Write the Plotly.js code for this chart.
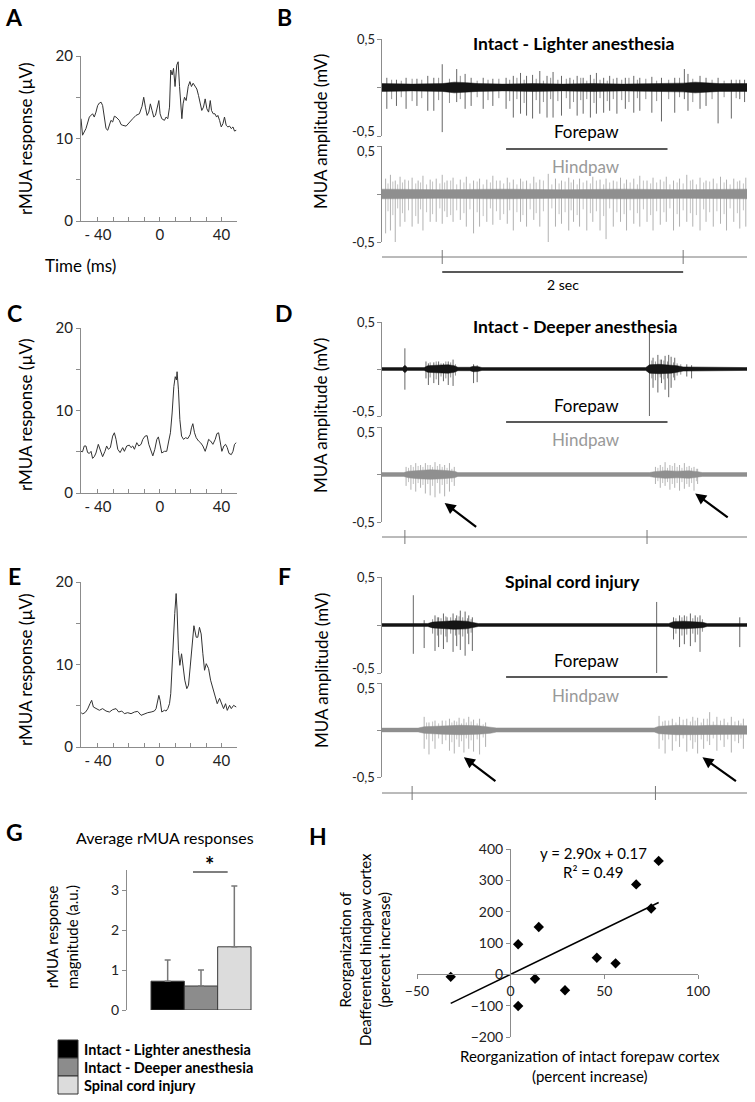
<!DOCTYPE html>
<html><head><meta charset="utf-8">
<script src="https://cdn.plot.ly/plotly-3.0.1.min.js"></script>
<style>html,body{margin:0;padding:0;background:#fff}#chart{width:755px;height:1102px}</style>
</head><body><div id="chart"></div>
<script>
// ---------- DATA ----------
// Panel A: rMUA response, intact lighter anesthesia (time ms, µV)
const aTime = [-51,-50,-47.8,-45.6,-43.5,-42.4,-41.3,-40.2,-39.1,-38,-37,-35.9,-34.8,-33.7,-32.6,-31.6,-30.5,-29.4,-28.3,-27.2,-26.2,-25.1,-24,-21.8,-19.7,-17.5,-15.4,-13.2,-11.5,-10.4,-9.3,-8.2,-7.1,-6.1,-5,-3.9,-2.8,-1.7,-0.6,0.2,1.3,3,4.1,5.2,6.3,7.1,8,8.9,9.9,11,11.9,12.8,13.4,14.3,15.1,16,17.1,18.4,19.5,20.5,21.6,22.9,24,25.1,26.2,27.2,28.3,29.4,30.5,31.6,32.7,33.5,34.6,35.7,36.8,37.6,38.7,39.8,40.9,41.9,43,44.1,45.2,46.3,47.4,48.4,49.5];
const aResp = [12.4,10.4,11.2,12.6,13.0,12.6,13.2,14.0,14.3,14.4,14.0,12.6,11.2,11.0,11.8,12.2,12.0,12.7,12.6,12.4,12.2,11.7,11.6,11.5,12.0,12.4,12.8,13.0,13.9,15.0,13.8,12.8,13.2,14.2,13.4,12.6,12.8,13.6,14.6,13.0,12.4,12.2,12.6,12.4,13.8,18.3,17.7,18.5,16.3,18.9,19.3,16.3,14.6,12.4,14.2,15.0,14.6,16.3,16.9,16.3,16.7,16.3,16.0,15.2,14.2,13.4,13.8,14.8,13.6,13.2,14.6,13.4,13.0,13.0,12.6,12.8,12.2,11.4,11.8,12.6,11.6,11.4,11.5,11.2,11.4,10.9,11.0];
// Panel C: intact deeper anesthesia
const cTime = [-51,-50,-48.9,-47.8,-46.7,-45.6,-44.5,-43.5,-42.4,-41.3,-39.8,-38.5,-37,-35.5,-34.4,-33.3,-32,-30.5,-29.4,-28.3,-27.2,-25.7,-24,-22.9,-21.4,-19.7,-18.6,-17.5,-16.4,-14.9,-13.6,-12.1,-11,-9.5,-8.2,-7.1,-5.6,-4.5,-3.2,-1.9,-0.9,0.2,1.3,3,4.5,5.8,6.9,8,9.1,10,10.8,11.2,12.1,13,14.1,15.4,16.6,18.2,19.7,20.5,21.4,22.5,23.6,25.1,26.4,27.9,29.4,30.5,31.6,32.9,34.4,35.9,37,38.1,39.1,40.2,41.5,42.6,43.7,44.8,46.3,47.4,48.4,49.5];
const cResp = [5.05,5.0,5.7,5.7,4.9,4.8,5.05,4.2,4.4,4.85,5.9,5.05,4.4,5.05,5.7,5.3,5.5,6.9,7.3,6.5,5.3,4.9,5.5,5.05,5.7,5.8,5.5,5.7,5.3,6.1,5.7,5.9,6.5,6.9,6.95,5.9,5.05,4.5,5.3,6.5,6.8,5.7,4.85,5.05,5.05,6.3,7.3,9.7,12.9,14.1,13.7,14.7,12.5,8.9,6.9,6.5,6.7,6.6,7.1,7.9,8.4,7.3,6.7,6.3,6.1,5.7,5.05,5.7,6.5,6.3,5.9,6.5,7.2,7.3,6.1,5.05,5.7,5.9,5.5,4.8,4.65,5.05,5.9,6.1];
// Panel E: spinal cord injury
const eTime = [-51,-50,-48.2,-46.7,-45.2,-44.1,-43,-41.3,-39.1,-37,-34.8,-32.6,-30.5,-28.3,-26.6,-24.6,-22.9,-20.8,-18.6,-16.4,-14.3,-12.1,-9.9,-7.8,-5.6,-3.5,-2.4,-1.5,-0.6,0.2,1.3,3,4.1,5.2,6.3,7.1,8,8.9,9.7,10.6,11.2,12.1,13,14.1,15.1,16.2,17.5,18.6,19.7,20.8,22.1,23.6,24.6,25.7,26.8,27.9,29,30.1,31.6,32.9,34.4,35.9,37.2,38.7,39.8,41.3,42.6,43.7,45.2,46.3,47.8,49.5];
const eResp = [4.2,4.0,4.2,4.6,5.25,5.66,4.85,4.65,4.45,4.65,4.36,4.24,4.53,4.65,4.24,4.36,4.04,4.16,4.04,4.24,4.32,3.84,4.04,4.16,4.24,4.36,4.65,5.45,6.26,5.66,4.24,4.45,4.36,4.65,5.25,6.46,10.1,14.9,16.2,18.6,16.6,11.7,9.9,11.3,9.7,8.1,7.07,7.5,9.7,12.5,14.7,13.3,13.3,14.5,13.7,11.3,9.3,10.1,9.5,8.1,7.07,5.9,5.25,5.9,5.45,4.65,5.25,4.44,5.05,4.65,5.05,4.85];

// MUA traces (time s, amplitude mV): noise envelope + large spikes + small spikes
// B top: forepaw, intact lighter anesthesia
const bFpEnvT = [0,0.25,0.5,0.6,0.7,0.8,1.0,1.25,1.5,1.75,2.0,2.25,2.5,2.6,2.7,2.8,3.03];
const bFpEnvA = [0.04,0.035,0.04,0.055,0.05,0.04,0.035,0.04,0.035,0.04,0.035,0.04,0.045,0.055,0.05,0.04,0.04];
const bFpSpkT = [0.04,0.12,0.20,0.29,0.38,0.43,0.50,0.62,0.69,0.74,0.84,0.92,1.03,1.09,1.15,1.20,1.25,1.31,1.37,1.42,1.49,1.56,1.62,1.67,1.73,1.78,1.84,1.89,1.95,2.02,2.09,2.14,2.24,2.32,2.43,2.51,2.54,2.64,2.69,2.79,2.90,2.97,3.01];
const bFpSpkLo = [-0.22,-0.19,-0.22,-0.19,-0.24,-0.24,-0.46,-0.15,-0.22,-0.19,-0.22,-0.19,-0.22,-0.31,-0.27,-0.29,-0.32,-0.27,-0.31,-0.31,-0.29,-0.22,-0.29,-0.27,-0.31,-0.27,-0.26,-0.24,-0.27,-0.22,-0.26,-0.24,-0.26,-0.35,-0.26,-0.12,-0.24,-0.22,-0.19,-0.37,-0.32,-0.12,-0.15];
const bFpSpkHi = [0.10,0.08,0.10,0.09,0.12,0.10,0.24,0.19,0.14,0.10,0.10,0.09,0.10,0.12,0.15,0.12,0.13,0.17,0.12,0.16,0.12,0.10,0.12,0.10,0.13,0.15,0.10,0.12,0.10,0.10,0.12,0.10,0.11,0.10,0.10,0.19,0.14,0.12,0.10,0.10,0.08,0.08,0.08];
const bFpSmlT = [0.08,0.16,0.25,0.33,0.47,0.56,0.65,0.79,0.88,0.97,1.06,1.12,1.18,1.28,1.34,1.40,1.46,1.53,1.59,1.65,1.70,1.76,1.81,1.87,1.92,1.99,2.05,2.12,2.19,2.28,2.38,2.47,2.58,2.74,2.84,2.94];
const bFpSmlLo = [-0.12,-0.10,-0.14,-0.11,-0.13,-0.16,-0.12,-0.10,-0.13,-0.11,-0.14,-0.12,-0.16,-0.13,-0.15,-0.12,-0.14,-0.11,-0.15,-0.13,-0.12,-0.16,-0.11,-0.14,-0.12,-0.13,-0.15,-0.11,-0.12,-0.14,-0.12,-0.10,-0.15,-0.12,-0.10,-0.11];
const bFpSmlHi = [0.08,0.07,0.09,0.08,0.10,0.09,0.12,0.07,0.08,0.09,0.08,0.10,0.08,0.09,0.07,0.10,0.08,0.09,0.08,0.10,0.07,0.09,0.08,0.07,0.09,0.08,0.10,0.08,0.09,0.07,0.08,0.10,0.09,0.08,0.07,0.08];
// B bottom: hindpaw, intact lighter anesthesia
const bHpEnvT = [0,0.5,1.0,1.5,2.0,2.5,3.03];
const bHpEnvA = [0.05,0.045,0.05,0.045,0.05,0.045,0.05];
const bHpSpkT = [0.03,0.07,0.11,0.15,0.19,0.25,0.30,0.34,0.40,0.45,0.50,0.54,0.59,0.65,0.70,0.76,0.81,0.87,0.92,0.98,1.04,1.09,1.15,1.20,1.26,1.31,1.38,1.44,1.49,1.55,1.59,1.64,1.70,1.75,1.81,1.86,1.92,1.98,2.03,2.09,2.14,2.20,2.25,2.31,2.36,2.42,2.47,2.53,2.58,2.64,2.69,2.75,2.81,2.86,2.92,2.97,3.02];
const bHpSpkLo = [-0.41,-0.38,-0.50,-0.34,-0.29,-0.34,-0.31,-0.38,-0.29,-0.29,-0.31,-0.24,-0.29,-0.27,-0.34,-0.41,-0.34,-0.29,-0.32,-0.27,-0.31,-0.38,-0.29,-0.34,-0.27,-0.34,-0.51,-0.34,-0.31,-0.38,-0.29,-0.34,-0.38,-0.29,-0.38,-0.47,-0.34,-0.29,-0.38,-0.31,-0.34,-0.29,-0.38,-0.32,-0.29,-0.38,-0.34,-0.29,-0.34,-0.38,-0.29,-0.34,-0.31,-0.38,-0.29,-0.36,-0.34];
const bHpSpkHi = [0.16,0.20,0.14,0.18,0.15,0.17,0.14,0.19,0.15,0.16,0.20,0.14,0.17,0.15,0.18,0.14,0.16,0.15,0.19,0.14,0.17,0.15,0.16,0.14,0.18,0.15,0.21,0.16,0.14,0.17,0.15,0.16,0.14,0.18,0.15,0.16,0.14,0.17,0.15,0.16,0.19,0.14,0.17,0.15,0.18,0.14,0.16,0.20,0.15,0.17,0.14,0.16,0.18,0.15,0.16,0.14,0.17];
const bHpSmlT = [0.05,0.09,0.13,0.17,0.22,0.28,0.32,0.37,0.42,0.48,0.52,0.57,0.62,0.68,0.73,0.79,0.84,0.90,0.95,1.01,1.06,1.12,1.17,1.23,1.28,1.34,1.41,1.47,1.52,1.57,1.62,1.67,1.73,1.78,1.84,1.89,1.95,2.01,2.06,2.12,2.17,2.23,2.28,2.34,2.39,2.45,2.50,2.56,2.61,2.67,2.72,2.78,2.84,2.89,2.95,3.00];
const bHpSmlLo = [-0.18,-0.22,-0.15,-0.20,-0.17,-0.23,-0.16,-0.19,-0.21,-0.15,-0.18,-0.22,-0.17,-0.20,-0.16,-0.19,-0.23,-0.15,-0.18,-0.21,-0.17,-0.19,-0.22,-0.16,-0.20,-0.18,-0.15,-0.21,-0.19,-0.17,-0.22,-0.16,-0.20,-0.18,-0.23,-0.15,-0.19,-0.21,-0.17,-0.20,-0.16,-0.22,-0.18,-0.19,-0.15,-0.21,-0.17,-0.20,-0.22,-0.16,-0.19,-0.18,-0.21,-0.15,-0.20,-0.17];
const bHpSmlHi = [0.11,0.13,0.10,0.12,0.14,0.11,0.12,0.10,0.13,0.11,0.12,0.14,0.10,0.12,0.11,0.13,0.10,0.12,0.14,0.11,0.12,0.10,0.13,0.11,0.12,0.14,0.10,0.11,0.13,0.12,0.10,0.12,0.11,0.14,0.10,0.12,0.13,0.11,0.12,0.10,0.14,0.11,0.12,0.13,0.10,0.12,0.11,0.14,0.10,0.12,0.13,0.11,0.12,0.10,0.13,0.11];
// D top: forepaw, intact deeper anesthesia
const dFpEnvT = [0,0.17,0.19,0.21,0.35,0.38,0.45,0.55,0.6,0.63,0.73,0.76,0.8,0.83,2.19,2.22,2.3,2.4,2.45,2.5,2.6,2.65,3.03];
const dFpEnvA = [0.015,0.015,0.04,0.015,0.015,0.035,0.04,0.045,0.035,0.018,0.018,0.03,0.025,0.015,0.015,0.045,0.05,0.045,0.035,0.022,0.022,0.015,0.015];
const dFpSpkT = [0.19,0.365,0.385,0.43,0.47,0.51,0.55,0.59,0.76,0.79,2.22,2.25,2.29,2.32,2.35,2.38,2.40,2.43,2.53,2.57];
const dFpSpkLo = [-0.22,-0.10,-0.17,-0.15,-0.17,-0.13,-0.17,-0.18,-0.15,-0.14,-0.51,-0.20,-0.25,-0.15,-0.22,-0.30,-0.20,-0.12,-0.08,-0.10];
const dFpSpkHi = [0.22,0.08,0.06,0.07,0.08,0.06,0.08,0.10,0.05,0.04,0.42,0.12,0.15,0.10,0.14,0.15,0.13,0.12,0.05,0.04];
const dFpSmlT = [0.40,0.45,0.49,0.53,0.57,0.61,2.24,2.27,2.31,2.34,2.37,2.42,2.45,2.48];
const dFpSmlLo = [-0.09,-0.11,-0.08,-0.10,-0.09,-0.07,-0.10,-0.12,-0.09,-0.11,-0.10,-0.09,-0.07,-0.06];
const dFpSmlHi = [0.07,0.08,0.06,0.08,0.07,0.05,0.09,0.08,0.10,0.09,0.08,0.07,0.06,0.05];
// D bottom: hindpaw, intact deeper anesthesia
const dHpEnvT = [0,0.18,0.22,0.3,0.4,0.5,0.6,0.63,2.22,2.26,2.35,2.45,2.55,2.62,2.66,3.03];
const dHpEnvA = [0.02,0.02,0.035,0.045,0.05,0.045,0.035,0.02,0.02,0.03,0.04,0.035,0.04,0.03,0.02,0.02];
const dHpSpkT = [0.20,0.24,0.28,0.32,0.36,0.40,0.44,0.48,0.52,0.56,0.60,2.27,2.31,2.35,2.39,2.43,2.47,2.51,2.55,2.59,2.62];
const dHpSpkLo = [-0.12,-0.16,-0.18,-0.14,-0.20,-0.22,-0.24,-0.20,-0.23,-0.18,-0.12,-0.10,-0.14,-0.12,-0.16,-0.14,-0.17,-0.15,-0.13,-0.17,-0.10];
const dHpSpkHi = [0.08,0.10,0.12,0.10,0.12,0.10,0.13,0.11,0.10,0.12,0.08,0.08,0.10,0.13,0.10,0.12,0.10,0.12,0.09,0.08,0.06];
const dHpSmlT = [0.22,0.26,0.30,0.34,0.38,0.42,0.46,0.50,0.54,0.58,2.29,2.33,2.37,2.41,2.45,2.49,2.53,2.57,2.61];
const dHpSmlLo = [-0.08,-0.10,-0.09,-0.11,-0.10,-0.12,-0.09,-0.11,-0.10,-0.08,-0.07,-0.09,-0.08,-0.10,-0.09,-0.08,-0.10,-0.09,-0.07];
const dHpSmlHi = [0.07,0.08,0.09,0.08,0.10,0.08,0.09,0.08,0.07,0.06,0.07,0.08,0.07,0.09,0.08,0.07,0.08,0.07,0.06];
// F top: forepaw, spinal cord injury
const fFpEnvT = [0,0.38,0.42,0.5,0.6,0.7,0.76,0.8,2.38,2.42,2.5,2.6,2.66,2.7,3.03];
const fFpEnvA = [0.015,0.015,0.03,0.04,0.045,0.04,0.028,0.015,0.015,0.035,0.04,0.035,0.028,0.015,0.015];
const fFpSpkT = [0.26,0.35,0.44,0.47,0.51,0.54,0.59,0.62,0.65,0.69,0.72,0.75,2.28,2.42,2.47,2.51,2.56,2.60,2.64,2.97];
const fFpSpkLo = [-0.30,-0.24,-0.27,-0.23,-0.25,-0.18,-0.28,-0.22,-0.26,-0.32,-0.20,-0.27,-0.50,-0.15,-0.23,-0.20,-0.22,-0.18,-0.28,-0.23];
const fFpSpkHi = [0.31,0.05,0.10,0.08,0.12,0.08,0.12,0.10,0.15,0.14,0.10,0.08,0.24,0.08,0.10,0.10,0.12,0.10,0.10,0.08];
const fFpSmlT = [0.42,0.46,0.49,0.53,0.57,0.61,0.64,0.67,0.71,0.74,2.44,2.49,2.53,2.58,2.62,2.66];
const fFpSmlLo = [-0.09,-0.11,-0.10,-0.12,-0.09,-0.11,-0.10,-0.12,-0.09,-0.08,-0.09,-0.11,-0.10,-0.09,-0.10,-0.07];
const fFpSmlHi = [0.06,0.08,0.07,0.09,0.08,0.07,0.09,0.08,0.07,0.06,0.07,0.08,0.09,0.07,0.08,0.06];
// F bottom: hindpaw, spinal cord injury
const fHpEnvT = [0,0.3,0.35,0.5,0.65,0.8,0.9,0.95,2.26,2.3,2.45,2.6,2.75,2.9,3.03];
const fHpEnvA = [0.02,0.02,0.035,0.045,0.05,0.045,0.035,0.022,0.022,0.04,0.05,0.045,0.05,0.045,0.045];
const fHpSpkT = [0.35,0.39,0.44,0.50,0.56,0.60,0.64,0.68,0.72,0.76,0.81,0.86,2.30,2.35,2.41,2.47,2.53,2.58,2.62,2.67,2.72,2.78,2.84,2.90,2.96,3.00];
const fHpSpkLo = [-0.20,-0.26,-0.20,-0.15,-0.22,-0.25,-0.18,-0.24,-0.20,-0.23,-0.26,-0.18,-0.20,-0.25,-0.22,-0.18,-0.23,-0.20,-0.25,-0.20,-0.16,-0.22,-0.18,-0.24,-0.14,-0.20];
const fHpSpkHi = [0.14,0.08,0.10,0.10,0.12,0.10,0.13,0.12,0.14,0.11,0.12,0.08,0.15,0.10,0.12,0.14,0.12,0.14,0.13,0.12,0.19,0.14,0.12,0.14,0.10,0.12];
const fHpSmlT = [0.37,0.42,0.47,0.53,0.58,0.62,0.66,0.70,0.74,0.79,0.84,2.33,2.38,2.44,2.50,2.56,2.60,2.65,2.70,2.75,2.81,2.87,2.93,2.98];
const fHpSmlLo = [-0.10,-0.12,-0.09,-0.11,-0.13,-0.10,-0.12,-0.09,-0.11,-0.10,-0.08,-0.11,-0.10,-0.12,-0.09,-0.11,-0.13,-0.10,-0.12,-0.09,-0.11,-0.10,-0.12,-0.09];
const fHpSmlHi = [0.08,0.09,0.07,0.10,0.08,0.09,0.07,0.08,0.09,0.07,0.06,0.09,0.10,0.08,0.11,0.09,0.10,0.08,0.12,0.09,0.10,0.08,0.09,0.07];
// stimulus ticks (s), forepaw stimulation bar (s), amplitude tick labels
const bStimT = [0.5,2.5];
const dStimT = [0.19,2.2];
const fStimT = [0.25,2.27];
const forepawBar = [1.03,2.37];
const scaleBar = [0.5,2.5];
const muaTickVals = [-0.5,0,0.5];
const muaTickText = ['-0,5','0,5'];

// Panel G: average rMUA responses
const gGroups = ['Intact - Lighter anesthesia','Intact - Deeper anesthesia','Spinal cord injury'];
const gMean = [0.72,0.60,1.58];
const gErr = [0.53,0.40,1.52];
const gColors = ['#000000','#8c8c8c','#dcdcdc'];

// Panel H: reorganization scatter (percent increase)
const hX = [79,67,75,15,4,46,56,-32,13,29,4];
const hY = [362,287,210,151,96,53,35,-8,-14,-51,-101];
const hSlope = 2.90, hIntercept = 0.17;

// ---------- HELPERS ----------
const FONT = 'Lato, "Open Sans", sans-serif';
const W = 755, H = 1102;
const PX = v => v / W, PY = v => 1 - v / H;
const AX = '#8c8c8c', TXT = '#222';

function spikeXY(ts, lo, hi) {
  const x = [], y = [];
  ts.forEach((t, i) => { x.push(t, t, null); y.push(lo[i], hi[i], null); });
  return {x, y};
}
function bandXY(ts, env) {
  return {x: ts.concat(ts.slice().reverse()),
          y: env.concat(env.slice().reverse().map(v => -v))};
}

const traces = [];
[[aTime, aResp, 'x', 'y'], [cTime, cResp, 'x2', 'y2'], [eTime, eResp, 'x3', 'y3']].forEach(p => {
  traces.push({type: 'scatter', mode: 'lines', x: p[0], y: p[1], xaxis: p[2], yaxis: p[3],
               line: {color: '#333', width: 1}, hoverinfo: 'skip'});
});
const BLK = ['#151515', '#555', '#777'], GRY = ['#8f8f8f', '#a8a8a8', '#b5b5b5'];
const mua = [
  [bFpEnvT, bFpEnvA, bFpSpkT, bFpSpkLo, bFpSpkHi, bFpSmlT, bFpSmlLo, bFpSmlHi, 'x4', 'y4', BLK],
  [bHpEnvT, bHpEnvA, bHpSpkT, bHpSpkLo, bHpSpkHi, bHpSmlT, bHpSmlLo, bHpSmlHi, 'x5', 'y5', GRY],
  [dFpEnvT, dFpEnvA, dFpSpkT, dFpSpkLo, dFpSpkHi, dFpSmlT, dFpSmlLo, dFpSmlHi, 'x6', 'y6', BLK],
  [dHpEnvT, dHpEnvA, dHpSpkT, dHpSpkLo, dHpSpkHi, dHpSmlT, dHpSmlLo, dHpSmlHi, 'x7', 'y7', GRY],
  [fFpEnvT, fFpEnvA, fFpSpkT, fFpSpkLo, fFpSpkHi, fFpSmlT, fFpSmlLo, fFpSmlHi, 'x8', 'y8', BLK],
  [fHpEnvT, fHpEnvA, fHpSpkT, fHpSpkLo, fHpSpkHi, fHpSmlT, fHpSmlLo, fHpSmlHi, 'x9', 'y9', GRY]
];
mua.forEach(m => {
  const s = spikeXY(m[2], m[3], m[4]);
  const s2 = spikeXY(m[5], m[6], m[7]);
  traces.push({type: 'scatter', mode: 'lines', x: s.x, y: s.y, xaxis: m[8], yaxis: m[9],
               line: {color: m[10][1], width: 0.9}, connectgaps: false, hoverinfo: 'skip'});
  traces.push({type: 'scatter', mode: 'lines', x: s2.x, y: s2.y, xaxis: m[8], yaxis: m[9],
               line: {color: m[10][2], width: 0.8}, connectgaps: false, hoverinfo: 'skip'});
  const b = bandXY(m[0], m[1]);
  traces.push({type: 'scatter', mode: 'lines', x: b.x, y: b.y, xaxis: m[8], yaxis: m[9],
               fill: 'toself', fillcolor: m[10][0], line: {color: m[10][0], width: 0.5}, hoverinfo: 'skip'});
});
traces.push({type: 'bar', x: gGroups.map((g, i) => i), y: gMean, xaxis: 'x10', yaxis: 'y10',
  width: 1, marker: {color: gColors, line: {color: '#3a3a3a', width: 1}},
  error_y: {type: 'data', symmetric: false, array: gErr, arrayminus: gErr.map(() => 0),
            color: '#777', thickness: 1.5, width: 3},
  hoverinfo: 'skip', name: 'Average rMUA responses'});
traces.push({type: 'scatter', mode: 'markers', x: hX, y: hY, xaxis: 'x11', yaxis: 'y11',
  marker: {symbol: 'diamond', size: 8, color: '#000'}, hoverinfo: 'skip', cliponaxis: false});
const tX = [Math.min(...hX), Math.max(...hX)];
traces.push({type: 'scatter', mode: 'lines', x: tX, y: tX.map(v => hSlope * v + hIntercept),
  xaxis: 'x11', yaxis: 'y11', line: {color: '#000', width: 1.5}, hoverinfo: 'skip'});

// ---------- AXES ----------
function ax(o) {
  return Object.assign({showline: true, linecolor: AX, linewidth: 1, ticks: 'outside', ticklen: 4,
    tickcolor: AX, showgrid: false, zeroline: false, fixedrange: true,
    tickfont: {family: FONT, size: 15, color: TXT}}, o);
}
const layout = {
  width: W, height: H, margin: {l: 0, r: 0, t: 0, b: 0}, showlegend: false,
  paper_bgcolor: '#fff', plot_bgcolor: 'rgba(0,0,0,0)', bargap: 0,
  font: {family: FONT, color: '#000'}
};
const msTicks = [-40,-30,-20,-10,0,10,20,30,40,50];
const msText = ['- 40','','','','0','','','','40',''];
const uvTicks = [0,5,10,15,20], uvText = ['0','','10','','20'];
[['', 56, 221], ['2', 328, 493], ['3', 582, 747]].forEach(p => {
  layout['xaxis' + p[0]] = ax({domain: [PX(81), PX(237)], range: [-51, 50], anchor: 'y' + p[0],
    ticks: 'inside', tickvals: msTicks, ticktext: msText});
  layout['yaxis' + p[0]] = ax({domain: [PY(p[2]), PY(p[1])], range: [0, 20], anchor: 'x' + p[0],
    tickvals: uvTicks, ticktext: uvText});
});
const muaPlots = [[4, 39, 136, 'top'], [5, 146, 242, 'bot'], [6, 322, 416, 'top'], [7, 427, 522, 'bot'], [8, 577, 673, 'top'], [9, 683, 777, 'bot']];
muaPlots.forEach(p => {
  layout['xaxis' + p[0]] = {domain: [PX(382), PX(747)], range: [0, 3.03], anchor: 'y' + p[0],
    visible: false, fixedrange: true};
  layout['yaxis' + p[0]] = ax({domain: [PY(p[2]), PY(p[1])], range: [-0.5, 0.5], anchor: 'x' + p[0],
    tickvals: muaTickVals, showticklabels: false});
});
layout.xaxis10 = {domain: [PX(127), PX(255)], range: [-1.22, 2.62], anchor: 'y10', visible: false, fixedrange: true};
layout.yaxis10 = ax({domain: [PY(1010), PY(870)], range: [0, 3.5], anchor: 'x10', tickvals: [0,1,2,3],
  tickfont: {family: FONT, size: 14, color: TXT}});
layout.xaxis11 = ax({domain: [PX(417), PX(698)], range: [-50, 100], anchor: 'free', position: PY(974),
  tickvals: [-50, 0, 50, 100], tickfont: {family: FONT, size: 14, color: TXT}});
layout.yaxis11 = ax({domain: [PY(1037), PY(849)], range: [-200, 400], anchor: 'free', position: PX(510),
  tickvals: [-200,-100,0,100,200,300,400], tickfont: {family: FONT, size: 14, color: TXT}});

// ---------- ANNOTATIONS ----------
const ann = [];
function T(text, x, y, o) {
  ann.push(Object.assign({text: text, x: PX(x), y: PY(y), xref: 'paper', yref: 'paper',
    showarrow: false, xanchor: 'center', yanchor: 'middle',
    font: {family: FONT, size: 16, color: '#000'}}, o || {}));
}
const tickFont = {family: FONT, size: 13, color: TXT};
muaPlots.forEach(p => {
  if (p[3] === 'top') {
    T(muaTickText[1], 376, p[1], {xanchor: 'right', font: tickFont, borderpad: 0});
    T(muaTickText[0], 376, p[2] + 4, {xanchor: 'right', yanchor: 'bottom', font: tickFont, borderpad: 0});
  } else {
    T(muaTickText[1], 376, p[1] - 4, {xanchor: 'right', yanchor: 'top', font: tickFont, borderpad: 0});
    T(muaTickText[0], 376, p[2], {xanchor: 'right', font: tickFont, borderpad: 0});
  }
});
[['A', 14, 17], ['B', 284, 17], ['C', 14, 313], ['D', 284, 313], ['E', 14, 576], ['F', 284, 576],
 ['G', 14, 832], ['H', 318, 836]].forEach(l => T('<b>' + l[0] + '</b>', l[1], l[2], {font: {family: FONT, size: 23, color: '#000'}}));
[139, 415, 670].forEach(y => T('rMUA response (µV)', 25, y, {textangle: -90, font: {family: FONT, size: 17, color: '#000'}}));
[132, 416, 671].forEach(y => T('MUA amplitude (mV)', 321, y, {textangle: -90, font: {family: FONT, size: 17, color: '#000'}}));
T('Time (ms)', 80, 265, {font: {family: FONT, size: 17, color: '#000'}});
T('<b>Intact - Lighter anesthesia</b>', 573, 43, {font: {family: FONT, size: 17.5, color: '#000'}});
T('<b>Intact - Deeper anesthesia</b>', 575, 326, {font: {family: FONT, size: 17.5, color: '#000'}});
T('<b>Spinal cord injury</b>', 572, 581, {font: {family: FONT, size: 17.5, color: '#000'}});
[[132, 167], [405, 440], [660, 695]].forEach(p => {
  T('Forepaw', 586, p[0], {font: {family: FONT, size: 17, color: '#000'}});
  T('Hindpaw', 586, p[1], {font: {family: FONT, size: 17, color: '#999'}});
});
T('2 sec', 563, 285, {font: {family: FONT, size: 14, color: '#000'}});
[['x7', 'y7', 0.52, -0.30, 33, 25], ['x7', 'y7', 2.60, -0.20, 34, 25],
 ['x9', 'y9', 0.68, -0.29, 33, 25], ['x9', 'y9', 2.66, -0.29, 35, 25]].forEach(a => {
  ann.push({text: '', xref: a[0], yref: a[1], x: a[2], y: a[3], ax: a[4], ay: a[5], showarrow: true,
    arrowhead: 2, arrowsize: 1, arrowwidth: 2.2, arrowcolor: '#000'});
});
T('Average rMUA responses', 165, 837, {font: {family: FONT, size: 16, color: '#000'}});
T('rMUA response<br>magnitude (a.u.)', 62, 937, {textangle: -90, font: {family: FONT, size: 15, color: '#000'}});
T('<b>*</b>', 210, 864, {font: {family: FONT, size: 22, color: '#000'}});
gGroups.forEach((g, i) => T('<b>' + g + '</b>', 82, 1049 + 18 * i, {xanchor: 'left', font: {family: FONT, size: 14.5, color: '#000'}}));
T('y = 2.90x + 0.17', 593, 853, {font: {family: FONT, size: 15, color: '#000'}});
T('R² = 0.49', 593, 872, {font: {family: FONT, size: 15, color: '#000'}});
T('Reorganization of intact forepaw cortex<br>(percent increase)', 590, 1066, {font: {family: FONT, size: 15, color: '#000'}});
T('Reorganization of<br>Deafferented hindpaw cortex<br>(percent increase)', 365, 950, {textangle: -90, font: {family: FONT, size: 15, color: '#000'}});
layout.annotations = ann;

// ---------- SHAPES ----------
const shapes = [];
function L(xref, x0, x1, y0, y1, color, width) {
  shapes.push({type: 'line', xref: xref, yref: 'paper', x0: x0, x1: x1, y0: PY(y0), y1: PY(y1),
    line: {color: color, width: width}});
}
[['x5', 257, bStimT], ['x7', 537, dStimT], ['x9', 793, fStimT]].forEach(p => {
  L(p[0], 0, 3.03, p[1], p[1], '#777', 1);
  p[2].forEach(t => L(p[0], t, t, p[1] - 7, p[1] + 7, '#777', 1));
});
L('x5', scaleBar[0], scaleBar[1], 272, 272, '#222', 1.5);
[['x4', 149], ['x6', 422], ['x8', 677]].forEach(p => L(p[0], forepawBar[0], forepawBar[1], p[1], p[1], '#222', 1.5));
L('x10', 0.76, 1.8, 872, 872, '#555', 1.5);
gColors.forEach((c, i) => shapes.push({type: 'rect', xref: 'paper', yref: 'paper',
  x0: PX(58), x1: PX(78), y0: PY(1040 + 18 * i), y1: PY(1058 + 18 * i),
  fillcolor: c, line: {color: '#333', width: 1}}));
layout.shapes = shapes;

Plotly.newPlot('chart', traces, layout, {staticPlot: true, displayModeBar: false});
</script></body></html>
